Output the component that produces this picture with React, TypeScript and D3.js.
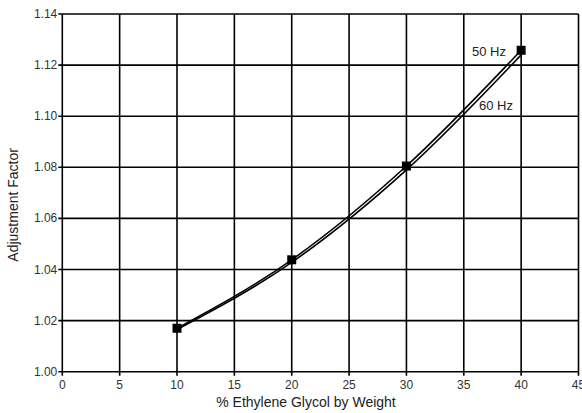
import React from "react";
import * as d3 from "d3";

const xTicks = [0, 5, 10, 15, 20, 25, 30, 35, 40, 45];
const yTicks = [1.0, 1.02, 1.04, 1.06, 1.08, 1.1, 1.12, 1.14];
const glycol = [10, 20, 30, 40];
const hz50 = [1.017, 1.0438, 1.0805, 1.1258];
const hz60 = [1.0165, 1.0428, 1.079, 1.124];

const W = 582, H = 413;
const L = 62.3, R = 578.5, T = 14, B = 371.7;

export default function App() {
  const x = d3.scaleLinear().domain([0, 45]).range([L, R]);
  const y = d3.scaleLinear().domain([1.0, 1.14]).range([B, T]);
  const line = d3
    .line<[number, number]>()
    .x((d) => x(d[0]))
    .y((d) => y(d[1]))
    .curve(d3.curveMonotoneX);
  const d50 = line(glycol.map((g, i) => [g, hz50[i]]) as [number, number][]) || "";
  const d60 = line(glycol.map((g, i) => [g, hz60[i]]) as [number, number][]) || "";
  const font = "Liberation Sans, Arial, sans-serif";
  return (
    <svg width={W} height={H} style={{ position: "absolute", left: 0, top: 0, background: "#fff" }} fontFamily={font}>
      <rect x={0} y={0} width={W} height={H} fill="#fff" />
      {xTicks.map((t) => (
        <line key={"gx" + t} x1={x(t)} x2={x(t)} y1={T} y2={B + 4} stroke="#000" strokeWidth={1.6} />
      ))}
      {yTicks.map((t) => (
        <line key={"gy" + t} x1={L - 4} x2={R} y1={y(t)} y2={y(t)} stroke="#000" strokeWidth={1.6} />
      ))}
      {xTicks.map((t) => (
        <text key={"tx" + t} x={x(t)} y={B + 17} textAnchor="middle" fontSize={12} fill="#333">
          {t}
        </text>
      ))}
      {yTicks.map((t) => (
        <text key={"ty" + t} x={L - 5} y={y(t) + 4} textAnchor="end" fontSize={12} fill="#333">
          {t.toFixed(2)}
        </text>
      ))}
      <text x={306} y={407} textAnchor="middle" fontSize={14} fill="#222">
        % Ethylene Glycol by Weight
      </text>
      <text
        transform={`translate(18,${(T + B) / 2 + 12}) rotate(-90)`}
        textAnchor="middle"
        fontSize={14}
        fill="#222"
      >
        Adjustment Factor
      </text>
      <path d={d60} fill="none" stroke="#000" strokeWidth={1.6} />
      <path d={d50} fill="none" stroke="#000" strokeWidth={1.6} />
      {glycol.map((g, i) => (
        <rect key={"m" + g} x={x(g) - 4.5} y={y(hz50[i]) - 4.5} width={9} height={9} fill="#000" />
      ))}
      <text x={472} y={56} fontSize={13} fill="#222">50 Hz</text>
      <text x={479} y={110} fontSize={13} fill="#222">60 Hz</text>
    </svg>
  );
}
